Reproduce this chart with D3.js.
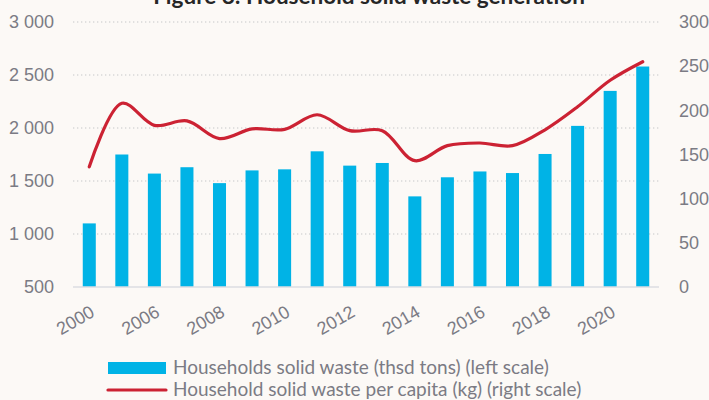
<!DOCTYPE html>
<html>
<head>
<meta charset="utf-8">
<script src="https://cdn.jsdelivr.net/npm/d3@7"></script>
<style>
  html, body { margin: 0; padding: 0; background: #fcf9f6; }
  svg { display: block; font-family: Lato, "Open Sans", sans-serif; }
</style>
</head>
<body>
<svg id="chart"></svg>
<script>
// data
const years = ['2000', '2005', '2006', '2007', '2008', '2009', '2010', '2011', '2012',
  '2013', '2014', '2015', '2016', '2017', '2018', '2019', '2020', '2021'];
const wasteTons = [1100, 1750, 1570, 1630, 1480, 1600, 1610, 1780, 1645,
  1670, 1355, 1535, 1590, 1575, 1755, 2020, 2350, 2580];
const wastePerCapita = [136, 208, 183, 188, 168, 179, 178.5, 195, 177,
  177, 143, 160, 163, 160, 178, 204, 234, 255];
const leftTicks = [500, 1000, 1500, 2000, 2500, 3000];
const rightTicks = [0, 50, 100, 150, 200, 250, 300];
const shownYears = ['2000', '2006', '2008', '2010', '2012', '2014', '2016', '2018', '2020'];

const width = 709, height = 400;
const plot = { left: 73, right: 659, top: 22, bottom: 287 };
const grey = '#7b7b84';

const svg = d3.select('#chart').attr('width', width).attr('height', height);

svg.append('rect').attr('width', width).attr('height', height).attr('fill', '#fcf9f6');

// title, clipped at the top edge like the source
svg.append('text')
  .attr('x', 369).attr('y', 4)
  .attr('text-anchor', 'middle')
  .style('font-size', '22.5px')
  .style('font-weight', 'bold')
  .attr('fill', '#262626')
  .text('Figure 8: Household solid waste generation');

const x = d3.scaleBand()
  .domain(years)
  .range([plot.left, plot.right])
  .paddingInner(0.6)
  .paddingOuter(0.3);

const yLeft = d3.scaleLinear().domain([500, 3000]).range([plot.bottom, plot.top]);
const yRight = d3.scaleLinear().domain([0, 300]).range([plot.bottom, plot.top]);

// dotted grid
svg.append('g')
  .selectAll('line')
  .data(leftTicks.slice(1))
  .enter()
  .append('line')
  .attr('x1', plot.left).attr('x2', plot.right)
  .attr('y1', d => yLeft(d)).attr('y2', d => yLeft(d))
  .attr('stroke', '#d8d8d8')
  .attr('stroke-width', 1.3)
  .attr('stroke-dasharray', '1.3 2.7');

// left axis
const leftAxis = svg.append('g')
  .attr('transform', `translate(${plot.left},0)`)
  .call(d3.axisLeft(yLeft).tickValues(leftTicks).tickSize(0).tickPadding(19)
    .tickFormat(d => d3.format(',')(d).replace(',', ' ')));
leftAxis.select('.domain').remove();
leftAxis.selectAll('text').attr('fill', grey).style('font-size', '18px');

// right axis
const rightAxis = svg.append('g')
  .attr('transform', `translate(${plot.right},0)`)
  .call(d3.axisRight(yRight).tickValues(rightTicks).tickSize(0).tickPadding(20));
rightAxis.select('.domain').remove();
rightAxis.selectAll('text').attr('fill', grey).style('font-size', '18px');

// bars
svg.append('g')
  .selectAll('rect')
  .data(years)
  .enter()
  .append('rect')
  .attr('x', d => x(d))
  .attr('y', (d, i) => yLeft(wasteTons[i]))
  .attr('width', x.bandwidth())
  .attr('height', (d, i) => plot.bottom - yLeft(wasteTons[i]))
  .attr('fill', '#00b3e6');

// baseline
svg.append('line')
  .attr('x1', plot.left).attr('x2', plot.right)
  .attr('y1', plot.bottom).attr('y2', plot.bottom)
  .attr('stroke', '#dcdde2').attr('stroke-width', 1.5);

// x labels
const bottomAxis = svg.append('g')
  .attr('transform', `translate(0,${plot.bottom})`)
  .call(d3.axisBottom(x).tickValues(shownYears).tickSize(0));
bottomAxis.select('.domain').remove();
bottomAxis.selectAll('text')
  .attr('fill', grey)
  .style('font-size', '18px')
  .style('text-anchor', 'end')
  .attr('dy', '0')
  .attr('transform', 'translate(5,26) rotate(-30)');

// per capita line
const line = d3.line()
  .x((d, i) => x(years[i]) + x.bandwidth() / 2)
  .y(d => yRight(d))
  .curve(d3.curveCatmullRom.alpha(0.5));

svg.append('path')
  .datum(wastePerCapita)
  .attr('d', line)
  .attr('fill', 'none')
  .attr('stroke', '#cc2233')
  .attr('stroke-width', 3.2)
  .attr('stroke-linecap', 'round');

// legend
const legend = svg.append('g');
legend.append('rect')
  .attr('x', 108).attr('y', 362).attr('width', 58).attr('height', 12)
  .attr('fill', '#00b3e6');
legend.append('line')
  .attr('x1', 108).attr('x2', 166).attr('y1', 390).attr('y2', 390)
  .attr('stroke', '#cc2233').attr('stroke-width', 3.2).attr('stroke-linecap', 'round');
legend.append('text')
  .attr('x', 173).attr('y', 374)
  .attr('fill', grey).style('font-size', '19px')
  .text('Households solid waste (thsd tons) (left scale)');
legend.append('text')
  .attr('x', 173).attr('y', 396)
  .attr('fill', grey).style('font-size', '19px')
  .text('Household solid waste per capita (kg) (right scale)');
</script>
</body>
</html>
